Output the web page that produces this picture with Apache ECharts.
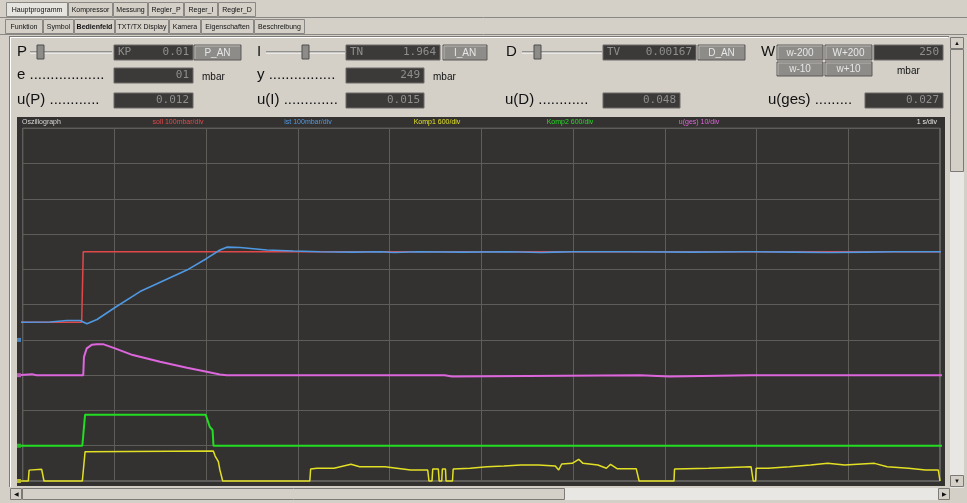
<!DOCTYPE html>
<html><head><meta charset="utf-8">
<script src="https://cdn.jsdelivr.net/npm/echarts/dist/echarts.min.js"></script>
<style>html,body{margin:0;padding:0;background:#d4d0c8;}#c{width:967px;height:503px;}</style>
</head><body><div id="c"></div><script>
// ---------- data (time in s, 1 s/div; values in channel units) ----------
const channelLabels = ['soll 100mbar/div','ist 100mbar/div','Komp1 600/div','Komp2 600/div','u(ges) 10/div'];
const timeLabel = '1 s/div';
const sollData = [[-0.03,50],[0.643,50],[0.66,250],[10.05,250]];
const istData = [[-0.03,50],[0.3,51],[0.48,55],[0.625,55],[0.70,46],[0.81,58],[1.006,92],[1.279,137],[1.57,172],[1.79,198],[2.006,231],[2.15,255],[2.224,263],[2.37,262],[2.66,255],[2.95,252],[3.24,250],[3.6,249],[3.9,250],[4.05,248],[4.3,250],[4.8,249],[5.3,250],[5.65,248],[5.8,249],[6.0,250],[6.6,250],[7.3,249],[7.92,250],[7.94,254],[7.96,250],[8.4,249],[8.8,248],[9.2,249],[9.5,250],[10.05,250]];
const ugesData = [[-0.05,0],[0.1,0.3],[0.15,0],[0.66,0],[0.668,5.2],[0.698,7.6],[0.752,8.6],[0.807,8.8],[0.875,8.8],[1.006,7.6],[1.20,5.7],[1.497,3.8],[1.79,2.1],[2.006,1.0],[2.15,0.2],[2.224,0],[4.6,0],[4.62,-0.4],[4.68,-0.4],[4.70,0],[6.73,0],[6.75,-0.4],[7.05,-0.4],[7.07,0],[7.94,0],[7.96,-0.4],[8.0,0],[10.05,0]];
const komp2Data = [[-0.05,0],[0.65,0],[0.68,528],[1.995,528],[2.04,318],[2.07,268],[2.08,0],[10.05,0]];
const komp1Data = [[-0.03,0],[0.061,0],[0.07,185],[0.09,199],[0.207,199],[0.232,0],[0.65,0],[0.68,498],[0.70,510],[2.078,510],[2.098,425],[2.133,328],[2.15,187],[2.18,0],[3.13,0],[3.139,204],[3.208,216],[3.394,216],[3.579,284],[3.673,243],[3.950,243],[4.229,187],[4.415,187],[4.429,0],[4.462,0],[4.47,204],[4.531,204],[4.54,0],[4.568,0],[4.575,204],[4.609,204],[4.615,0],[4.685,0],[4.693,204],[4.878,216],[5.062,243],[5.247,255],[5.432,272],[5.621,272],[5.806,255],[5.843,187],[5.876,289],[5.991,300],[6.061,369],[6.108,300],[6.271,272],[6.363,216],[6.409,284],[6.479,210],[6.688,210],[6.720,0],[7.10,0],[7.106,204],[7.476,216],[7.940,243],[7.964,0],[7.99,0],[7.996,216],[8.125,216],[8.358,243],[8.589,272],[8.776,300],[8.961,272],[9.286,300],[9.424,243],[9.657,216],[9.842,187],[9.981,187],[10.0,0]];
const tabsRow1 = ['Hauptprogramm','Kompressor','Messung','Regler_P','Reger_I','Regler_D'];
const tabsRow2 = ['Funktion','Symbol','Bedienfeld','TXT/TX Display','Kamera','Eigenschaften','Beschreibung'];
const readouts = {KP:'0.01', TN:'1.964', TV:'0.00167', W:'250', e:'01', y:'249', uP:'0.012', uI:'0.015', uD:'0.048', uges:'0.027'};

// ---------- UI chrome helpers ----------
const G = [];
const SANS = 'Liberation Sans';
function R(x,y,w,h,fill,stroke,z){G.push({type:'rect',silent:true,z:z||0,shape:{x:x,y:y,width:w,height:h},style:{fill:fill,stroke:stroke||null,lineWidth:1}});}
function L(x1,y1,x2,y2,stroke,w,z){G.push({type:'line',silent:true,z:z||1,shape:{x1:x1,y1:y1,x2:x2,y2:y2},style:{stroke:stroke,lineWidth:w||1}});}
function T(x,y,text,font,fill,align,z){G.push({type:'text',silent:true,z:z||2,x:x,y:y,style:{text:text,font:font,fill:fill,textAlign:align||'left',textVerticalAlign:'middle',align:align||'left',verticalAlign:'middle'}});}
function box(x,y,w,h,left,right){R(x,y,w,h,'#3b3a38','#6c6b68');
  if(left) T(x+4,y+h/2,left,'11px DejaVu Sans Mono','#8e8e8e','left');
  T(x+w-4,y+h/2,right,'11px DejaVu Sans Mono','#8e8e8e','right');}
function btn(x,y,w,h,label){R(x,y,w,h,'#8d8c89','#5c5b58');L(x+1,y+1,x+w-1,y+1,'#b8b6b2');L(x+1,y+1,x+1,y+h-1,'#b8b6b2');
  T(x+w/2,y+h/2+0.5,label,'10px '+SANS,'#e6e6e6','center');}
function slider(x1,x2,y,tx){L(x1,y,x2,y,'#555',1);L(x1,y+1,x2,y+1,'#fff',1);R(tx,y-7,7,14,'#8d8c89','#4f4e4c',3);}

// tabs
L(0,17.5,967,17.5,'#8a8884');L(0,34.5,967,34.5,'#8a8884');
const t1x=[6,68,113,148,184,218,256];
tabsRow1.forEach((s,i)=>{const x=t1x[i],w=t1x[i+1]-x;R(x+0.5,2.5,w-1,14,i===0?'#e6e4df':'#d4d0c8','#8a8884');T(x+w/2,10,s,'7px '+SANS,'#111','center');});
const t2x=[5,43,74,115,169,201,254,305];
tabsRow2.forEach((s,i)=>{const x=t2x[i],w=t2x[i+1]-x;R(x+0.5,19.5,w-1,14,'#d4d0c8','#8a8884');T(x+w/2,27,s,(i===2?'bold ':'')+'7px '+SANS,'#111','center');});
// panel frame
L(9,36.5,949,36.5,'#7c7a76');L(9.5,36,9.5,487,'#7c7a76');L(10.5,37,10.5,487,'#ffffff');L(10,37.5,948,37.5,'#ffffff');

// row 1
T(17,52,'P','15px '+SANS,'#111');slider(30,112,52,37);box(114,45,79,15,'KP',readouts.KP);btn(194,45,47,15,'P_AN');
T(257,52,'I','15px '+SANS,'#111');slider(266,345,52,302);box(346,45,94,15,'TN',readouts.TN);btn(443,45,44,15,'I_AN');
T(506,52,'D','15px '+SANS,'#111');slider(522,602,52,534);box(603,45,93,15,'TV',readouts.TV);btn(698,45,47,15,'D_AN');
T(761,52,'W','15px '+SANS,'#111');btn(777,45,46,15,'w-200');btn(825,45,47,15,'W+200');box(874,45,69,15,'',readouts.W);
btn(777,62,46,14,'w-10');btn(825,62,47,14,'w+10');T(897,71,'mbar','10px '+SANS,'#111');
// row 2
T(17,75,'e ..................','15px '+SANS,'#111');box(114,68,79,15,'',readouts.e);T(202,77,'mbar','10px '+SANS,'#111');
T(257,75,'y ................','15px '+SANS,'#111');box(346,68,78,15,'',readouts.y);T(433,77,'mbar','10px '+SANS,'#111');
// row 3
T(17,100,'u(P) ............','15px '+SANS,'#111');box(114,93,79,15,'',readouts.uP);
T(257,100,'u(I) .............','15px '+SANS,'#111');box(346,93,78,15,'',readouts.uI);
T(505,100,'u(D) ............','15px '+SANS,'#111');box(603,93,77,15,'',readouts.uD);
T(768,100,'u(ges) .........','15px '+SANS,'#111');box(865,93,78,15,'',readouts.uges);

// oscilloscope panel
R(17,117,928,369,'#343230',null,-5);
T(22,122.5,'Oszillograph','7px '+SANS,'#d8d8d8');
const chanColors = ['#e0484a','#4f98e2','#e2e024','#22dd22','#dd66dd'];
const labelX = [178,308,437,570,699];
channelLabels.forEach((s,i)=>T(labelX[i],122.5,s,'7px '+SANS,chanColors[i],'center'));
T(937,122.5,timeLabel,'7px '+SANS,'#e8e8e8','right');

// scrollbars
R(950,37,14,451,'#e9e7e3',null);
R(950.5,37.5,13,11,'#d4d0c8','#7c7a76');T(957,43,'▲','6px '+SANS,'#111','center');
R(950.5,49.5,13,122,'#d4d0c8','#7c7a76');
R(950.5,475.5,13,11,'#d4d0c8','#7c7a76');T(957,481,'▼','6px '+SANS,'#111','center');
R(10,488,940,12,'#e9e7e3',null);
R(10.5,488.5,11,11,'#d4d0c8','#7c7a76');T(16,494,'◀','6px '+SANS,'#111','center');
R(22.5,488.5,542,11,'#d4d0c8','#7c7a76');
R(938.5,488.5,11,11,'#d4d0c8','#7c7a76');T(944,494,'▶','6px '+SANS,'#111','center');

// ---------- chart ----------
const chart = echarts.init(document.getElementById('c'), null, {renderer:'canvas'});
const hid = {show:false};
function line(name,data,yi,color,w){return {name:name,type:'line',data:data,xAxisIndex:0,yAxisIndex:yi,showSymbol:false,symbol:'none',clip:false,animation:false,lineStyle:{color:color,width:w},z:3};}
chart.setOption({
  backgroundColor:'#d4d0c8',
  animation:false,
  graphic:G,
  grid:{left:22.7,top:128.3,right:27,bottom:22,show:true,backgroundColor:'#343230',borderColor:'#8c8b88',borderWidth:1,containLabel:false},
  xAxis:{type:'value',min:0,max:10,interval:1,axisLabel:hid,axisTick:hid,axisLine:hid,splitLine:{show:true,lineStyle:{color:'#5e5d5a',width:1}}},
  yAxis:[
    {type:'value',min:0,max:10,interval:1,axisLabel:hid,axisTick:hid,axisLine:hid,splitLine:{show:true,lineStyle:{color:'#5e5d5a',width:1}}},
    {type:'value',min:-400,max:600,show:false,splitLine:hid},
    {type:'value',min:-30,max:70,show:false,splitLine:hid},
    {type:'value',min:-600,max:5400,show:false,splitLine:hid},
    {type:'value',min:0,max:6000,show:false,splitLine:hid}
  ],
  series:[
    line('soll',sollData,1,chanColors[0],1.5),
    line('ist',istData,1,chanColors[1],1.6),
    line('Komp1',komp1Data,4,chanColors[2],1.5),
    line('Komp2',komp2Data,3,chanColors[3],2),
    line('u(ges)',ugesData,2,chanColors[4],2),
    {type:'scatter',symbol:'rect',symbolSize:4,clip:false,yAxisIndex:1,data:[[-0.04,0]],itemStyle:{color:chanColors[1]},z:4},
    {type:'scatter',symbol:'rect',symbolSize:4,clip:false,yAxisIndex:2,data:[[-0.04,0]],itemStyle:{color:chanColors[4]},z:4},
    {type:'scatter',symbol:'rect',symbolSize:4,clip:false,yAxisIndex:3,data:[[-0.04,0]],itemStyle:{color:chanColors[3]},z:4},
    {type:'scatter',symbol:'rect',symbolSize:4,clip:false,yAxisIndex:4,data:[[-0.04,0]],itemStyle:{color:chanColors[2]},z:4}
  ]
});
</script></body></html>
